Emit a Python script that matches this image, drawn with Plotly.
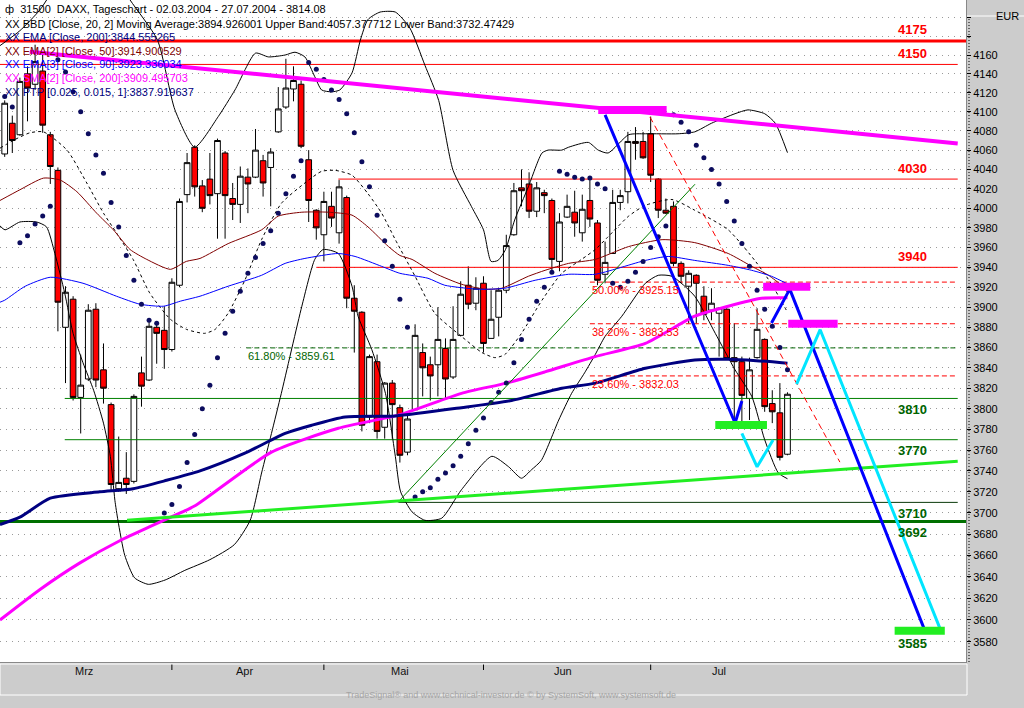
import numpy as np
import pandas as pd
import plotly.graph_objects as go

# ---------------- data ----------------
holidays = ["2004-04-09", "2004-04-12"]
month_names = {3: "Mrz", 4: "Apr", 5: "Mai", 6: "Jun", 7: "Jul"}

opens = [4056, 4088, 4076, 4140, 4129, 4143, 4076, 4039, 3880, 3908,
         3811, 3829, 3898, 3838, 3804, 3723, 3733, 3730, 3835, 3828,
         3880, 3877, 3858, 3922, 4014, 4063, 4023, 4030, 4015, 4057,
         4010, 4004, 4032, 4032, 4049, 4042, 4079, 4105, 4124, 4129,
         4050, 3998, 3973, 4002, 3975, 4011, 3909, 3895, 3792, 3846,
         3782, 3825, 3801, 3758, 3799, 3855, 3843, 3843, 3859, 3831,
         3872, 3922, 3904, 3924, 3869, 3890, 3917, 3973, 4021, 4025,
         3997, 4016, 4008, 3946, 3991, 3996, 3975, 4008, 3985, 3933,
         3954, 4006, 4017, 4069, 4069, 4077, 4030, 3998, 4002, 3944,
         3921, 3932, 3911, 3897, 3894, 3898, 3850, 3846, 3810, 3850,
         3868, 3805, 3796, 3756]
highs = [4112, 4096, 4136, 4148, 4171, 4163, 4079, 4042, 3921, 3911,
         3853, 3903, 3904, 3864, 3806, 3773, 3758, 3814, 3851, 3888,
         3886, 3901, 3929, 4010, 4057, 4065, 4029, 4057, 4072, 4059,
         4026, 4043, 4041, 4082, 4055, 4062, 4126, 4156, 4148, 4133,
         4060, 3999, 4017, 4017, 4029, 4013, 3922, 3896, 3853, 3853,
         3826, 3828, 3804, 3797, 3883, 3864, 3851, 3900, 3869, 3901,
         3926, 3941, 3930, 3931, 3917, 3919, 3973, 4026, 4040, 4037,
         4027, 4019, 4010, 3995, 4014, 4018, 4014, 4029, 3988, 3966,
         4019, 4019, 4079, 4084, 4079, 4095, 4031, 4010, 4007, 3946,
         3937, 3933, 3921, 3919, 3900, 3899, 3884, 3851, 3850, 3899,
         3869, 3818, 3825, 3816]
lows = [4053, 4057, 4075, 4090, 4123, 4078, 4025, 3876, 3825, 3808,
        3776, 3827, 3821, 3805, 3721, 3720, 3718, 3728, 3802, 3827,
        3844, 3839, 3856, 3920, 4006, 4012, 3996, 4004, 3969, 3969,
        3988, 3985, 3995, 4031, 4012, 4002, 4078, 4103, 4111, 4062,
        3986, 3968, 3946, 3981, 3964, 3899, 3855, 3778, 3786, 3771,
        3771, 3771, 3748, 3755, 3799, 3812, 3808, 3812, 3810, 3829,
        3871, 3898, 3897, 3855, 3869, 3871, 3914, 3972, 4002, 3990,
        3991, 3995, 3934, 3936, 3990, 3971, 3966, 3981, 3922, 3924,
        3954, 3998, 4005, 4050, 4051, 4027, 3990, 3994, 3941, 3924,
        3884, 3884, 3887, 3887, 3851, 3848, 3790, 3786, 3789, 3849,
        3797, 3786, 3750, 3755]
closes = [4109, 4070, 4132, 4125, 4153, 4086, 4043, 3905, 3915, 3811,
          3823, 3897, 3828, 3820, 3727, 3729, 3727, 3812, 3822, 3881,
          3874, 3858, 3925, 4007, 4047, 4022, 4000, 4013, 4070, 4013,
          4004, 4033, 4025, 4060, 4026, 4058, 4103, 4125, 4133, 4064,
          4008, 3980, 4007, 3990, 4022, 3909, 3896, 3784, 3851, 3778,
          3825, 3804, 3755, 3790, 3872, 3840, 3832, 3868, 3829, 3868,
          3913, 3903, 3919, 3864, 3888, 3917, 3962, 4018, 4018, 3997,
          4021, 4013, 3948, 3986, 4002, 3985, 3999, 3989, 3927, 3945,
          4006, 4013, 4069, 4067, 4052, 4034, 3998, 3995, 3944, 3931,
          3934, 3924, 3893, 3904, 3899, 3849, 3846, 3813, 3838, 3878,
          3802, 3797, 3753, 3814.08]

# Parabolic SAR (PTP) dots
sar = [4116, 4105, 3965, 3972, 3984, 3992, 4002, 4155, 4142, 4121,
       4100, 4077, 4055, 4036, 4006, 3981, 3952, 3927, 3903, 3887,
       3884, 3700, 3708, 3725, 3748, 3775, 3800, 3823, 3850, 3874,
       3896, 3916, 3934, 3950, 3964, 3977, 3995, 4015, 4033, 4049,
       4152, 4145, 4134, 4123, 4113, 4098, 4078, 4048, 4022, 3993,
       3967, 3941, 3908, 3880, 3715, 3720, 3724, 3732, 3738, 3745,
       3754, 3766, 3779, 3791, 3806, 3816, 3825, 3845, 3868, 3888,
       3906, 3920, 3935, 4038, 4035, 4032, 4030, 4031, 4025, 4020,
       3924, 3920, 3926, 3935, 3946, 3960, 3971, 3982, 4097, 4089,
       4079, 4065, 4052, 4040, 4025, 4007, 3987, 3964, 3941, 3917,
       3898, 3881, 3860, 3838]

# indicator curves read at sample positions (bar index, value)
sma200_idx = [-0.62, 4.6, 9.9, 15.2, 19.1, 23.1, 25.1, 35.1, 43.9, 51.9, 60.1, 66.0, 71.1, 77.7, 84.3, 90.8, 95.2, 99.6, 103.0]
sma200_val = [3600, 3628, 3653, 3674, 3687, 3700, 3707, 3758, 3781, 3794, 3815, 3825, 3836, 3851, 3864, 3891, 3901, 3909, 3909.5]

ema200_idx = [-0.62, 2.0, 6.0, 12.5, 16.9, 21.3, 25.7, 31.6, 36.9, 40.4, 44.8, 51.4, 60.1, 66.7, 73.3, 77.7, 84.3, 90.8, 95.2, 98.9, 103.0]
ema200_val = [3689, 3696, 3714, 3720, 3723, 3731, 3740, 3757, 3776, 3784, 3792, 3793, 3801, 3808, 3820, 3825, 3839.5, 3847.7, 3848.4, 3847, 3844.56]

ema90_idx = [-0.62, 0.0, 2.7, 6.0, 10.3, 14.7, 17.8, 20.9, 23.1, 25.7, 29.4, 33.8, 36.9, 39.5, 43.9, 46.1, 49.6, 52.0, 55.7, 57.9, 62.3, 65.8, 69.8, 74.2, 77.7, 84.3, 87.3, 90.8, 95.2, 98.3, 100.9, 103.0]
ema90_val = [3905, 3907, 3921, 3930, 3924, 3911, 3903, 3901, 3906, 3911, 3921, 3932, 3944, 3949, 3954, 3951, 3941, 3934, 3929, 3922, 3918, 3919, 3927, 3933, 3933, 3947, 3951, 3947, 3942, 3937, 3931, 3923.3]

ema50_idx = [-0.62, 2.0, 5.1, 7.3, 9.5, 12.1, 14.3, 16.5, 18.7, 21.8, 23.9, 25.7, 29.4, 33.8, 36.0, 39.1, 42.6, 45.7, 47.8, 50.5, 52.0, 53.6, 56.6, 60.1, 63.2, 65.4, 68.9, 71.1, 74.2, 77.7, 82.1, 86.5, 90.8, 95.2, 98.3, 100.5, 102.2, 103.0]
ema50_val = [4008, 4019, 4031, 4029, 4017, 3995, 3978, 3958, 3948, 3938, 3946, 3949, 3964, 3978, 3992, 3996, 3996, 3993, 3981, 3961, 3952, 3948, 3934, 3923, 3918, 3919, 3931, 3937, 3944, 3948, 3961, 3968, 3965, 3954, 3941, 3932, 3922, 3914.9]

bb_up_idx = [-0.62, 2.0, 4.6, 7.3, 11.2, 14.5, 16.5, 20.1, 22.4, 25.0, 28.1, 30.3, 33.0, 34.7, 36.9, 38.2, 39.5, 40.8, 41.7, 43.0, 44.1, 45.7, 46.8, 47.8, 49.4, 51.4, 53.3, 55.3, 57.1, 59.0, 61.4, 63.0, 64.0, 64.9, 65.9, 67.1, 68.9, 70.7, 71.5, 73.3, 74.2, 76.8, 78.1, 79.4, 82.1, 84.3, 88.6, 90.8, 93.0, 96.1, 97.8, 100.0, 101.4, 103.0]
bb_up_val = [4170, 4186, 4208, 4240, 4262, 4246, 4219, 4176, 4102, 4063, 4095, 4123, 4162, 4158, 4160, 4163, 4158, 4137, 4123, 4121, 4123, 4141, 4176, 4198, 4206, 4206, 4189, 4149, 4112, 4039, 4002, 3978, 3946, 3947, 3958, 3988, 4022, 4057, 4060, 4060, 4063, 4068, 4060, 4057, 4076, 4077, 4077, 4079, 4088, 4098, 4102, 4098, 4088, 4057.38]

bb_lo_idx = [-0.62, 0.04, 2.0, 4.2, 5.5, 6.6, 7.9, 9.0, 10.3, 11.7, 13.0, 13.9, 14.5, 14.9, 15.8, 17.1, 18.9, 21.1, 23.7, 27.0, 30.2, 32.3, 33.8, 35.1, 36.4, 39.1, 40.8, 41.9, 43.9, 45.7, 46.5, 48.3, 50.1, 51.4, 52.1, 53.6, 55.3, 57.5, 60.1, 64.1, 66.3, 68.0, 69.3, 70.6, 72.9, 74.6, 76.3, 77.7, 79.0, 81.2, 84.3, 86.0, 87.8, 90.8, 93.5, 96.1, 98.3, 100.0, 101.8, 103.0]
bb_lo_val = [3982, 3978, 3986, 3986, 3981, 3954, 3914, 3874, 3845, 3818, 3786, 3754, 3712, 3693, 3660, 3639, 3633, 3637, 3646, 3656, 3670, 3693, 3738, 3776, 3815, 3901, 3948, 3958, 3954, 3921, 3891, 3858, 3815, 3754, 3720, 3701, 3693, 3695, 3722, 3754, 3744, 3733, 3741, 3750, 3789, 3815, 3835, 3853, 3871, 3891, 3924, 3932, 3931, 3911, 3874, 3838, 3812, 3770, 3738, 3732.47]

bb_mid_idx = [-0.62, 1.1, 3.3, 5.1, 8.2, 10.8, 13.0, 14.7, 16.9, 19.1, 21.8, 23.9, 26.3, 27.7, 29.4, 31.6, 33.8, 36.4, 39.5, 41.7, 43.5, 45.7, 47.8, 49.6, 51.4, 54.0, 56.6, 60.1, 62.8, 64.5, 65.8, 68.0, 70.7, 73.3, 75.9, 77.7, 79.4, 82.1, 84.3, 87.8, 90.8, 95.2, 98.8, 101.0, 103.0]
bb_mid_val = [4062, 4070, 4078, 4079, 4060, 4026, 3995, 3975, 3948, 3914, 3888, 3878, 3874, 3878, 3894, 3927, 3968, 4005, 4026, 4038, 4039, 4034, 4015, 3995, 3968, 3931, 3894, 3871, 3855, 3850, 3853, 3874, 3907, 3934, 3948, 3958, 3971, 3992, 4003, 4009, 3998, 3978, 3946, 3922, 3894.93]

# horizontal levels
red_levels = [4175, 4150, 4030, 3940]
red_level_from = [-0.62, -0.62, 43.9, 41.0]
green_levels = [3810, 3770, 3710, 3692]
green_level_from = [7.9, 7.9, 51.8, -0.62]
level_end = 125.4
green_label_values = [3810, 3770, 3710, 3692, 3585]

# Fibonacci retracements
fib_names = ["61.80%", "50.00%", "38.20%", "23.60%"]
fib_values = [3859.61, 3925.15, 3883.53, 3832.03]
fib_from = [31.8, 77.0, 77.0, 77.0]

# drawn trend lines (bar index, value)
resist_idx, resist_val = [3.3, 125.4], [4163.6, 4066.9]
support_idx, support_val = [16.1, 125.4], [3693.1, 3749.3]
fibbase_idx, fibbase_val = [51.75, 90.83], [3710.2, 4024.7]
reddiag_idx, reddiag_val = [84.9, 109.9], [4094.6, 3748.4]
blue1_idx, blue1_val = [79.0, 96.1, 97.0], [4096.7, 3786.1, 3807.5]
blue2_idx, blue2_val = [100.9, 103.3, 121.0], [3884.2, 3918.1, 3591.6]
cyan1_idx, cyan1_val = [97.0, 99.0, 101.1], [3776.1, 3743.9, 3769.6]
cyan2_idx, cyan2_val = [104.2, 107.3, 123.1], [3824.0, 3877.6, 3591.6]
magenta_marks = [(78.1, 87.1, 4101.9), (99.8, 106.0, 3920.4), (103.1, 109.6, 3883.5)]
green_marks = [(93.5, 100.3, 3784.1), (117.1, 123.7, 3590.0)]

legend_texts = [
    ("ф  31500  DAXX, Tageschart - 02.03.2004 - 27.07.2004 - 3814.08", "#000000"),
    ("XX BBD [Close, 20, 2] Moving Average:3894.926001 Upper Band:4057.377712 Lower Band:3732.47429", "#000000"),
    ("XX EMA [Close, 200]:3844.555265", "#000080"),
    ("XX EMA[2] [Close, 50]:3914.900529", "#800000"),
    ("XX EMA[3] [Close, 90]:3923.336034", "#0000ff"),
    ("XX SMA[2] [Close, 200]:3909.495703", "#ff00ff"),
    ("XX PTP [0.025, 0.015, 1]:3837.919637", "#000080"),
]

# ---------------- derived ----------------
dates = pd.bdate_range("2004-03-02", "2004-07-27")
dates = dates[~dates.isin(pd.to_datetime(holidays))]
idx = np.arange(len(dates))
months = np.array([d.month for d in dates])
month_first = [int(np.where(months == m)[0][0]) for m in sorted(set(months))]
month_last = [int(np.where(months == m)[0][-1]) for m in sorted(set(months))]

# ---------------- layout geometry (pixels) ----------------
W, H = 1024, 708
PL, PR, PT, PB = 0, 58, 0, 46
PW, PH = W - PL - PR, H - PT - PB
XMIN, XMAX = -0.618, 126.49
YMIN, YMAX = 3561.5, 4219.0
FONT = "Liberation Sans"


def px(xp):
    return (xp - PL) / PW


def py(yp):
    return 1 - (yp - PT) / PH


fig = go.Figure()

fig.add_trace(go.Candlestick(
    x=idx, open=opens, high=highs, low=lows, close=closes,
    increasing=dict(line=dict(color="black", width=1), fillcolor="#ffffff"),
    decreasing=dict(line=dict(color="black", width=1), fillcolor="#ff0000"),
    whiskerwidth=0, hoverinfo="skip", showlegend=False))


def add_line(xs, ys, color, width, dash=None, shape="linear"):
    fig.add_trace(go.Scatter(x=xs, y=ys, mode="lines",
                             line=dict(color=color, width=width, dash=dash, shape=shape,
                                       smoothing=0.6 if shape == "spline" else None),
                             hoverinfo="skip", showlegend=False))


# horizontal levels
for v, x0 in zip(red_levels, red_level_from):
    add_line([x0, XMAX if v == 4175 else level_end], [v, v], "#ff0000", 3 if v == 4175 else 1)
for v, x0 in zip(green_levels, green_level_from):
    if v == 3692:
        add_line([x0, XMAX], [v, v], "#007000", 3)
    elif v == 3710:
        add_line([x0, level_end], [v, v], "#0a3a0a", 1)
    else:
        add_line([x0, level_end], [v, v], "#008000", 1)
for name, v, x0 in zip(fib_names, fib_values, fib_from):
    col = "#006400" if name == "61.80%" else "#ff0000"
    add_line([x0, level_end], [v, v], col, 1, dash="5px,3px")

# indicators
add_line(bb_up_idx, bb_up_val, "#000000", 1, shape="spline")
add_line(bb_lo_idx, bb_lo_val, "#000000", 1, shape="spline")
add_line(bb_mid_idx, bb_mid_val, "#000000", 1, dash="3px,3px", shape="spline")
add_line(ema50_idx, ema50_val, "#800000", 1, shape="spline")
add_line(ema90_idx, ema90_val, "#0000ff", 1, shape="spline")
add_line(sma200_idx, sma200_val, "#ff00ff", 3, shape="spline")
add_line(ema200_idx, ema200_val, "#000080", 3, shape="spline")

fig.add_trace(go.Scatter(x=idx, y=sar, mode="markers",
                         marker=dict(color="#0c0c5e", size=5, line=dict(width=0)),
                         hoverinfo="skip", showlegend=False))

# drawings
add_line(fibbase_idx, fibbase_val, "#008000", 1)
add_line(reddiag_idx, reddiag_val, "#ff0000", 1, dash="6px,4px")
add_line(resist_idx, resist_val, "#ff00ff", 4)
add_line(support_idx, support_val, "#22ee22", 3)
add_line(blue1_idx, blue1_val, "#0000ff", 3)
add_line(blue2_idx, blue2_val, "#0000ff", 3)
add_line(cyan1_idx, cyan1_val, "#00e5ff", 3)
add_line(cyan2_idx, cyan2_val, "#00e5ff", 3)
for x0, x1, v in magenta_marks:
    add_line([x0, x1], [v, v], "#ff00ff", 8)
for x0, x1, v in green_marks:
    add_line([x0, x1], [v, v], "#22ee22", 8)

annotations = []
# level labels
for v in red_levels:
    annotations.append(dict(x=119.4, y=np.log10(v), xref="x", yref="y", text=f"<b>{v}</b>",
                            showarrow=False, yshift=11, font=dict(color="#ff0000", size=13, family=FONT)))
for v in green_label_values:
    annotations.append(dict(x=119.4, y=np.log10(v), xref="x", yref="y", text=f"<b>{v}</b>",
                            showarrow=False, yshift=-7 if v == 3585 else -11,
                            font=dict(color="#006400", size=13, family=FONT)))
for name, v, x0 in zip(fib_names, fib_values, fib_from):
    col = "#006400" if name == "61.80%" else "#ff0000"
    annotations.append(dict(x=x0, y=np.log10(v), xref="x", yref="y", text=f"{name} - {v:.2f}",
                            showarrow=False, xanchor="left", yshift=-8,
                            font=dict(color=col, size=11, family=FONT)))
# legend texts
leg_y = [9, 23.5, 37, 50.7, 64.3, 78, 91.7]
for (t, c), yy in zip(legend_texts, leg_y):
    annotations.append(dict(x=px(3), y=py(yy), xref="paper", yref="paper", text=t, showarrow=False,
                            xanchor="left", yanchor="middle", font=dict(color=c, size=11, family=FONT)))
# month labels
for m0, m1 in zip(month_first, month_last):
    annotations.append(dict(x=(m0 + m1) / 2, y=py(679), xref="x", yref="paper",
                            text=month_names[dates[m0].month], showarrow=False,
                            font=dict(color="#111111", size=11, family=FONT)))
annotations.append(dict(x=px(1021), y=py(8), xref="paper", yref="paper", text="EUR", showarrow=False,
                        xanchor="right", font=dict(color="#000000", size=11, family=FONT)))
annotations.append(dict(x=px(511), y=py(702), xref="paper", yref="paper",
                        text="TradeSignal® and www.technical-investor.de © by SystemSoft, www.systemsoft.de",
                        showarrow=False, font=dict(color="#a4a4a4", size=9, family=FONT)))

shapes = []
for m0 in month_first[1:]:
    shapes.append(dict(type="line", xref="x", yref="paper", x0=m0, x1=m0, y0=py(664), y1=py(670),
                       line=dict(color="#000000", width=1)))
shapes.append(dict(type="rect", xref="paper", yref="paper", x0=px(0), x1=px(967), y0=py(664), y1=py(695),
                   line=dict(color="#ffffff", width=1)))
shapes.append(dict(type="line", xref="paper", yref="paper", x0=px(969), x1=px(969), y0=py(662), y1=py(18),
                   line=dict(color="#000000", width=1, dash="1px,2px")))
shapes.append(dict(type="line", xref="paper", yref="paper", x0=px(967), x1=px(1024), y0=py(16), y1=py(16),
                   line=dict(color="#ffffff", width=1)))

tickvals = list(range(3580, 4201, 20))
ticktext = [str(t) if t <= 4160 else "" for t in tickvals]

fig.update_layout(
    width=W, height=H, margin=dict(l=PL, r=PR, t=PT, b=PB),
    paper_bgcolor="#cccccc", plot_bgcolor="#ffffff",
    showlegend=False, hovermode=False,
    font=dict(family=FONT, size=11, color="#000000"),
    boxgap=0.25, boxgroupgap=0,
    xaxis=dict(range=[XMIN, XMAX], showticklabels=False, showgrid=False, zeroline=False,
               rangeslider=dict(visible=False), showline=True, linecolor="#888888", linewidth=1,
               ticks=""),
    yaxis=dict(type="log", range=[np.log10(YMIN), np.log10(YMAX)], side="right",
               tickvals=tickvals, ticktext=ticktext, ticks="outside", ticklen=4, tickcolor="#000000",
               tickfont=dict(size=11, color="#000000", family=FONT),
               showgrid=True, gridcolor="#9a9a9a", griddash="1px,5px", gridwidth=1,
               zeroline=False, showline=True, linecolor="#888888", linewidth=1),
    annotations=annotations, shapes=shapes,
)

fig.write_html("out.html", config={"displayModeBar": False},
               post_script="document.body.style.margin='0';document.body.style.overflow='hidden';")
